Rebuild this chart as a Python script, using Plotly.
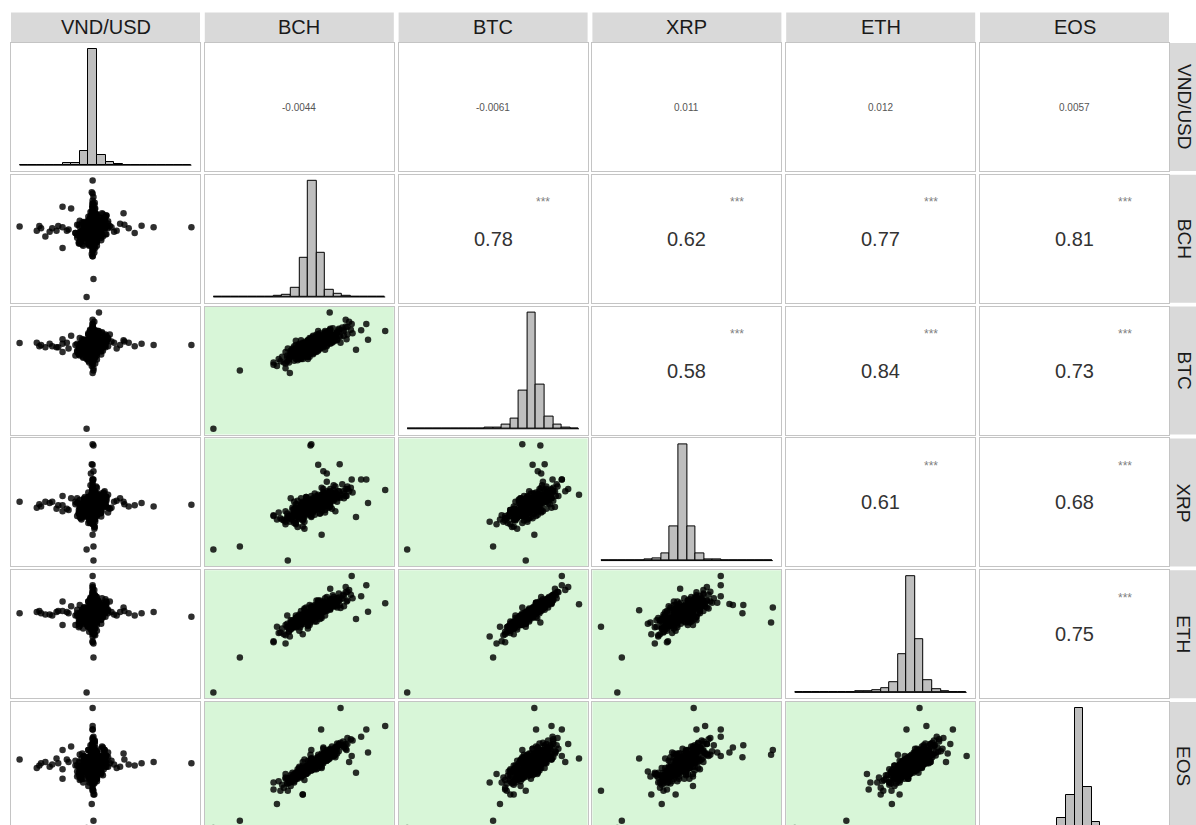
import plotly.graph_objects as go

# ---------------- data (daily returns, read/estimated from the picture) ----------------
labels = ["VND/USD", "BCH", "BTC", "XRP", "ETH", "EOS"]

vnd = [-0.07, 0.01, 0.0, 0.01, 0.0, 0.074, 0.0, 0.0, -0.85, 1.15, 0.01, 0.0,
       0.0, 0.01, -0.01, 0.0, 0.02, 0.0, -0.01, 0.0, 0.01, 0.0, -0.02, 0.0,
       0.0, 0.01, -0.01, 0.0, 0.02, 0.0, -0.01, 0.0, 0.01,
       0.71, 0.57, -0.65, -0.47, 0.37, 0.49, -0.55, -0.35, -0.28, 0.25, 0.18, -0.20, 0.32, -0.42, 0.12, -0.14, -0.35, -0.25, -0.35, 0.36,
       -0.6, -0.5, -0.4, -0.3, -0.18, 0.15, 0.22, 0.28, 0.42, -0.62,
       0.05, -0.1, 0.0, 0.15, -0.05, 0.1, -0.15, 0.0, 0.05, -0.1,
       0.1, 0.0, -0.05, 0.15, -0.1, 0.05, 0.0, 0.1, -0.15, 0.05,
       -0.05, 0.1, 0.0, -0.1, 0.15, -0.05, 0.05, 0.0, -0.1, 0.1,
       0.0, -0.05, 0.05, -0.15, 0.1, 0.0, -0.1, 0.05, 0.15, -0.05,
       0.0, 0.1, -0.1, 0.05, 0.0, -0.05, 0.1, -0.15, 0.05, 0.0,
       0.05, -0.1, 0.1, 0.0, -0.05, 0.05,
       0.04, -0.04, 0.0, 0.02, -0.06, 0.06, 0.0, 0.03, -0.03, 0.0,
       0.05, -0.05, 0.0, 0.02, -0.02, 0.04, 0.0, -0.04, 0.01, -0.01,
       0.06, -0.06, 0.0, 0.03, -0.03, 0.0, 0.05, -0.05, 0.0, 0.02,
       -0.02, 0.04, 0.0, -0.04, 0.01, -0.01, 0.0, 0.03, -0.03, 0.0,
       0.02, -0.03, 0.0, 0.05, -0.05, 0.03, 0.0, -0.02, 0.04, -0.04,
       0.0, 0.02, -0.03, 0.0, 0.05, -0.02, 0.03, 0.0, -0.05, 0.02,
       0.0, -0.03, 0.04, 0.0, -0.02, 0.03, 0.0, -0.04, 0.02, 0.0,
       -0.03, 0.05, 0.0, 0.02, -0.02, 0.0, 0.04, -0.04, 0.0, 0.03,
       -0.02, 0.0, 0.02, -0.03, 0.0, 0.05, -0.05, 0.0, 0.02, 0.0,
       0.08, -0.1, 0.12, -0.12, 0.06, -0.08, 0.14, -0.14, 0.1, -0.06,
       0.04, -0.04, 0.16, -0.16, 0.09, -0.09, 0.11, -0.11, 0.05, -0.05,
       0.13, -0.13, 0.07, -0.07, 0.15, -0.15, 0.03, -0.03, 0.1, -0.1,
       0.08, -0.08, 0.12, -0.12, 0.06, -0.06, 0.14, -0.14, 0.02, -0.02,
       0.11, -0.11, 0.09, -0.09, 0.05, -0.05, 0.13, -0.13, 0.07, -0.07,
       0.04, -0.04, 0.16, -0.16, 0.0, 0.0, 0.1, -0.1, 0.0, 0.0,
       0.12, -0.12, 0.1, -0.1, 0.14, -0.14, 0.06, -0.06, 0.18, -0.18,
       0.08, -0.08, 0.16, -0.16, 0.04, -0.04, 0.2, -0.2, 0.1, -0.1,
       0.12, -0.12, 0.08, -0.08, 0.14, -0.14, 0.02, -0.02, 0.16, -0.16,
       0.06, -0.06, 0.18, -0.18, 0.1, -0.1, 0.04, -0.04, 0.12, -0.12,
       0.0, 0.025, -0.025, 0.05, 0.0, -0.05, 0.025, 0.0, -0.025, 0.025, 0.0, 0.05, -0.05, 0.025, 0.0, 0.0, -0.025, 0.025]

bch = [-58, -14.7, -1, -1.5, 42, 9.7, 22.5, 16, 2.6, 2, -42.6, 5,
       31, 28, 32, 25, 21, 19, 15.5, 4.7, 6, 3, 8, 10,
       -23, -16, -21, -13.5, -6, -15, -10, -23, -6,
       2, 3.3, -1, 1, 4, -3, -6, 2, 0, -2, 1, -3, 5, -1, 2, -2, 19.5, 18, -16, 14,
       1, -2, 3, -1, 4, -4, 2, -1, 1, 3,
       0.5, 1.8, -1.5, 3.2, -2.8, 4.5, -4.2, 2.2, -0.6, 5.8,
       -5.5, 1.0, -3.5, 6.9, -6.8, 3.9, -2.0, 0.0, 7.5, -7.8,
       2.8, -1.1, 4.9, -4.9, 1.5, -0.2, 8.8, -8.5, 3.5, -3.0,
       0.8, -1.9, 5.2, -5.9, 2.5, -2.4, 6.4, -6.3, 1.2, -0.9,
       9.5, -9.2, 4.1, -3.8, 0.3, 7.0, -7.2, 2.0, -1.3, 3.0,
       -4.5, 1.6, 5.6, -0.4, 11.0, -10.5,
       2, -2, 4, -4, 1, -1, 6, -6, 3, -3,
       0, 0, 5, -5, 2, -2, 7, -7, 1, -1,
       3, -3, 8, -8, 4, -4, 2, -2, 0, 0,
       5, -5, 9, -9, 3, -3, 6, -6, 1, -1,
       9, -8, 12, -11, 6, -6, 14, -13, 7, -4,
       16, -15, 10, -9, 5, -5, 18, -18, 8, -7,
       11, -12, 13, -10, 4, -3, 15, -14, 6, -6,
       9, -9, 20, -20, 3, -2, 12, -11, 17, -16,
       7, -8, 10, -10, 22, 13, -13, 8, -5, 19,
       4, -5, 8, -8, 1, -2, 10, -10, -3, 3,
       6, -6, 12, -11, 2, -1, 7, -7, 5, -4,
       9, -9, -1, 1, 11, -12, 3, -3, 6, -6,
       0, 0, 13, -13, 2, -2, 8, -8, 5, -5,
       14, -14, 4, -4, 9, -9, 1, -1, 7, -7,
       11, -11, 3, -3, 6, -6, 10, -10, 15, -15,
       6, -6, -2, 2, 9, -9, 0, 0, 5, -5,
       7, -7, -4, 4, 11, -11, 3, -3, 8, -8,
       -6, 6, 4, -4, 10, -10, -1, 1, 12, -12,
       3, -3, 7, -7, -5, 5, 13, -13, 1, -1,
       13.0, -12.5, 15.0, -14.0, 10.0, -11.0, 17.5, -17.0, 12.0, -9.0, 20.0, 8.0, -7.5, 14.0, -19.0, 11.5, -5.0, 23.0]

btc = [-72, -3, -5, 5.5, 12, 28, 18, 2, 1.8, 0, -22, 2,
       18, 12.6, 4.6, -4, 20, 21.7, 8, 3, 4, 1, 6, 14,
       -17, -20, -18, -24, -10, -9, 3.7, -15, -12,
       0, 1, 2, -1, 3, -1, -2, 1, -3, 2, -1, 0, 0, -2, 3, 1, 5, 8, -6, 4,
       0, 1, -2, 2, 1, -2, 3, -3, 2, -1,
       0.3, 1.2, -1.0, 2.0, -2.5, 3.8, -3.0, 0.8, 0.9, 4.2,
       -4.8, 2.1, -1.8, 5.5, -5.9, 1.5, -3.3, -0.5, 6.1, -6.5,
       3.0, -2.2, 2.7, -3.9, -0.1, 1.6, 6.9, -7.0, 4.6, -1.2,
       -1.4, 0.2, 5.0, -4.2, 1.9, -2.9, 3.5, -5.1, 2.6, -0.7,
       7.8, -8.1, 3.2, -2.4, 1.1, 4.8, -5.5, 0.4, -1.6, 2.4,
       -3.6, 3.5, 2.2, -2.7, 8.5, -9.0,
       -1, 1, 1, -1, 3, -3, 2, -2, 4, -4,
       2, -2, 5, -5, 0, 0, 3, -3, 5, -5,
       1, -1, 6, -6, 3, -3, 4, -4, -1, 1,
       2, -2, 4, -4, 6, -6, 0, 0, 2, -2,
       4, -3, 8, -6, 9, -9, 11, -8, 2, -7,
       7, -11, 13, -13, 6, -2, 12, -10, 10, -5,
       3, -4, 9, -12, 8, -10, 14, -15, 1, -1,
       12, -7, 9, -12, 5, -6, 6, -9, 15, -16,
       11, -12, 5, -5, 13, 7, -6, 7, -8, 16,
       -3, 2, 2, -1, 6, -7, 5, -4, 4, -5,
       8, -9, 6, -8, -2, 3, 10, -10, 0, 0,
       3, -2, 5, -6, 9, -9, -4, 4, 3, -3,
       7, -7, 4, -5, 9, -10, -1, 1, 6, -6,
       11, -11, 1, -2, 7, -6, 2, -3, 12, -12,
       2, -1, 8, -8, 5, -4, 1, 0, 13, -14,
       -2, 2, 6, -6, 2, -2, 8, -8, 5, -5,
       -4, 4, 3, -3, 4, -4, 9, -9, 0, 0,
       1, -1, 10, -10, 7, -7, -4, 4, 3, -3,
       12, -12, 6, -6, -1, 1, 8, -8, -5, 5,
       9.5, -10.0, 11.5, -12.5, 12.0, -13.5, 13.0, -15.0, 6.5, -11.0, 15.5, 10.5, -9.5, 5.0, -14.0, 14.5, -7.5, 10.0]

xrp = [-37.6, -47, 52, 51, 13, 9, 22, 6.4, 3, 0.5, -35, -25,
       22, 22, 2, -10, 12, 14, 35, 8, 29, 34.5, 27, -1.4,
       -8.4, -16, -12, -14, -18, -10, -5, -9, -4,
       -1, 2, -2, 3, 1, 0, 3, 0, -4, 3, -2, 1, 6, -3, -1, 2, 8, 6, -5, 3,
       -1, 2, 0, -3, 2, 1, -2, 4, -1, 1,
       -0.8, 2.5, -0.5, 1.1, -3.6, 5.2, -1.9, -1.5, 1.4, 3.0,
       -6.2, 0.4, -2.6, 7.8, -4.1, 2.0, -0.2, 1.9, 4.6, -8.0,
       3.9, -3.0, 0.8, -5.5, -1.2, 2.8, 6.0, -5.0, 2.4, -4.5,
       0.3, -1.0, 6.4, -2.8, 4.4, -1.7, 1.6, -7.0, -0.6, 0.9,
       8.5, -9.5, 5.9, -3.2, -2.3, 3.5, -6.0, 1.0, -2.1, 0.0,
       -3.9, 3.1, 2.6, -1.3, 6.8, -7.5,
       3, -3, -1, 1, 2, -2, 4, -4, 0, 0,
       5, -5, 2, -2, 0, 0, 1, -1, 3, -3,
       6, -6, 5, -5, -2, 2, 1, -1, 2, -2,
       7, -7, 3, -3, 4, -4, 1, -1, -4, 4,
       2, -6, 13, -3, 11, -12, 6, -10, -4, 2,
       9, -7, 4, -8, 15, -14, 10, -12, 7, -9,
       5, -2, 16, -16, 3, -5, 12, -11, 10, -11,
       -2, 4, 14, -6, 9, -8, 8, -13, 18, -14,
       1, -4, 12, -15, 15, -5, 6, 20, -20, 8,
       6, -7, 1, -3, -4, 5, 3, -9, 2, -2,
       9, -8, 5, -6, 8, -9, 2, -1, -5, 6,
       11, -12, 0, 1, 7, -10, 4, -4, -1, 2,
       6, -6, 9, -8, 3, -3, 12, -11, 0, 0,
       8, -9, -7, 7, 4, -5, 10, -10, 6, -6,
       -3, 3, 7, -7, 14, -13, 0, 1, 12, -11,
       3, -3, -5, 5, -1, 1, 4, -4, 9, -9,
       0, 0, 7, -7, 6, -6, -3, 3, 10, -10,
       2, -2, 5, -5, 2, -2, 8, -8, 4, -4,
       6, -6, -6, 6, -4, 4, 11, -11, 1, -1,
       10.5, -12.0, 7.0, -9.0, 14.0, -15.0, 12.0, -13.0, 17.0, -18.5, 16.0, 5.0, -3.0, 9.0, -11.0, 8.0, -10.0, 11.0]

eth = [-68, -11.7, 5, -8, 8.6, 7.7, 32, 4.6, 0, -3, -38, 2.6,
       24, 14.6, 1.3, -5, 20, 22.5, 7, -3, 7, 0, 8, 21,
       -24, -26, -11.5, -20, -18, -2, -4, -25, -7,
       1, 0, 1, -2, 2, -2, -1, 2, 0, -1, 3, -2, 1, 1, 0, -3, 10, 6, -10, 5,
       0, -1, 2, 1, 3, -3, 1, -2, 0, 2,
       0.6, 1.5, -1.8, 2.8, -2.0, 4.0, -3.9, 1.0, 0.2, 5.1,
       -5.0, 2.4, -2.9, 6.2, -6.5, 3.3, -2.7, -0.3, 7.0, -7.2,
       2.1, -1.0, 4.5, -4.6, 0.5, 1.1, 8.0, -8.2, 3.8, -1.6,
       -0.9, 0.4, 5.8, -5.5, 3.6, -3.4, 4.8, -4.3, 1.7, -1.3,
       9.0, -9.0, 2.9, -2.2, 0.9, 6.5, -5.9, 0.1, -2.3, 2.0,
       -3.3, 3.0, 3.9, -1.9, 10.0, -10.2,
       0, 0, 2, -2, 3, -3, 3, -3, 5, -5,
       1, -1, 3, -3, 3, -3, 6, -6, 2, -2,
       4, -4, 7, -7, 1, -1, 6, -6, -2, 2,
       4, -4, 5, -5, 4, -4, 2, -2, 2, -2,
       7, -9, 6, -8, 10, -7, 9, -14, 3, -5,
       12, -9, 12, -11, 4, -4, 15, -13, 5, -10,
       9, -6, 10, -12, 11, -13, 17, -16, 2, -3,
       8, -8, 11, -17, 6, -2, 14, -7, 13, -19,
       13, -15, 7, -6, 16, 10, -10, 9, -9, 18,
       -1, 3, 5, -6, 7, -5, 4, -7, 1, -2,
       3, -4, 10, -12, -3, 2, 8, -9, 2, -1,
       6, -5, 6, -7, 12, -11, 0, 1, 9, -8,
       4, -3, 7, -8, 11, -10, 2, -1, 3, -4,
       13, -13, 5, -5, 4, -3, 0, 1, 9, -9,
       6, -7, 8, -8, 5, -6, 3, -2, 11, -12,
       1, -1, 7, -7, 5, -5, 5, -5, 0, 0,
       -2, 2, 5, -5, 8, -8, 10, -10, 3, -3,
       -3, 3, 7, -7, 4, -4, -6, 6, 9, -9,
       11, -11, 2, -2, 4, -4, 6, -6, -3, 3,
       12.0, -13.0, 13.5, -15.0, 11.0, -11.5, 16.0, -18.0, 9.0, -8.0, 18.5, 14.0, -12.0, 8.0, -16.5, 15.5, -6.5, 13.0]

eos = [-53, -22, 12, 8, 32, 5, 7, 47, 4, 1, -47, 5,
       29, 23, 10, -7, 2, 17, 16, 29, 14, 6, 10, 9,
       -15, -8, -33, -15, -25, -12, -8, -21, -25,
       2, 1, -3, 0, 4, -1, 2, -4, 2, 0, -2, 3, -2, 5, 1, -1, 12, 15, -12, 9,
       1, -2, 1, 4, -1, -2, 3, -3, 0, -1,
       0.2, 2.2, -2.0, 3.9, -3.1, 5.5, -5.0, 0.6, -1.1, 6.8,
       -4.4, 1.5, -3.8, 7.0, -7.5, 2.5, -1.4, 0.9, 8.3, -6.1,
       3.2, -0.4, 4.1, -6.0, 1.8, 0.3, 9.5, -9.0, 2.0, -2.4,
       -0.6, -2.6, 4.6, -5.2, 4.8, -1.0, 5.9, -7.9, 2.9, -0.2,
       10.5, -8.3, 3.5, -4.6, -0.9, 6.2, -6.7, 1.2, -0.8, 3.0,
       -2.9, 1.9, 6.5, -1.7, 12.0, -11.0,
       1, -1, 5, -5, 0, 0, 3, -3, 2, -2,
       3, -3, 6, -6, 4, -4, 4, -4, -1, 1,
       2, -2, 5, -5, 6, -6, 1, -1, 2, -2,
       3, -3, 8, -8, 1, -1, 7, -7, 3, -3,
       11, -5, 9, -14, 4, -3, 13, -9, 8, -8,
       18, -16, 6, -6, 7, -7, 14, -17, 12, -11,
       15, -10, 8, -7, 2, -4, 11, -13, 13, -9,
       5, -12, 17, -14, -3, 3, 10, -15, 16, -11,
       9, -9, 12, -8, 21, 6, -18, 10, -6, 13,
       7, -4, 3, -2, 0, 1, 12, -11, -6, 6,
       2, -3, 7, -9, 4, -5, 5, -6, 9, -8,
       10, -10, -2, 3, 8, -13, 8, -7, 1, -1,
       3, -4, 14, -12, 2, -1, 6, -7, -3, 4,
       15, -15, 6, -5, 11, -10, -4, 5, 4, -5,
       9, -8, 1, -2, 8, -9, 13, -12, 17, -16,
       8, -8, 0, 0, 4, -4, -3, 3, 6, -6,
       5, -5, -2, 2, 9, -9, 1, -1, 3, -3,
       -9, 9, 6, -6, 12, -12, 2, -2, 7, -7,
       4, -4, 10, -10, -7, 7, 11, -11, 5, -5,
       14.0, -14.5, 16.0, -12.0, 9.0, -9.5, 19.0, -19.5, 11.0, -10.0, 22.0, 7.5, -6.0, 17.5, -22.0, 10.5, -13.0, 20.0]

# histogram counts (20 equal bins spanning each variable's min..max)
vnd_hist = [1, 0, 1, 1, 0, 6, 7, 49, 410, 35, 12, 5, 1, 0, 1, 1, 0, 0, 0, 1]
bch_hist = [1, 0, 0, 1, 1, 1, 2, 4, 7, 32, 140, 413, 158, 25, 10, 4, 2, 1, 1, 1]
btc_hist = [1, 0, 0, 0, 0, 1, 0, 1, 2, 3, 4, 14, 35, 133, 410, 154, 42, 14, 4, 1]
xrp_hist = [1, 0, 1, 2, 1, 6, 7, 25, 122, 415, 122, 25, 4, 4, 2, 1, 1, 1, 0, 2]
eth_hist = [1, 0, 0, 1, 0, 1, 2, 4, 5, 8, 14, 35, 133, 410, 186, 42, 10, 3, 2, 1]
eos_hist = [1, 1, 0, 1, 2, 2, 4, 7, 32, 112, 403, 137, 21, 5, 3, 2, 1, 1, 1, 1]

# correlation labels (upper triangle)
corr_vnd = ["-0.0044", "-0.0061", "0.011", "0.012", "0.0057"]
corr_bch = ["0.78", "0.62", "0.77", "0.81"]
corr_btc = ["0.58", "0.84", "0.73"]
corr_xrp = ["0.61", "0.68"]
corr_eth = ["0.75"]

series = [vnd, bch, btc, xrp, eth, eos]
hists = [vnd_hist, bch_hist, btc_hist, xrp_hist, eth_hist, eos_hist]
corr_rows = [corr_vnd, corr_bch, corr_btc, corr_xrp, corr_eth]
n_obs = len(vnd)
assert all(len(s) == n_obs for s in series), [len(s) for s in series]

# ---------------- layout geometry ----------------
W, H = 1196, 825
FONT = "Liberation Sans, Arial, Helvetica, sans-serif"
col_x0 = [11 + 193.8 * j for j in range(6)]
row_y0 = [43 + 131.8 * i for i in range(6)]
PW, PH = 189, 128
LAST_PH = 132             # the last row runs past the bottom edge of the picture
GREEN = "#d8f6d8"
BORDER = "#c4c4c4"


def var_range(v):
    lo, hi = min(series[v]), max(series[v])
    r = hi - lo
    return [lo - 0.05 * r, hi + 0.05 * r]


fig = go.Figure()
layout = dict(width=W, height=H, margin=dict(l=0, r=0, t=0, b=0, autoexpand=False),
              paper_bgcolor="white", plot_bgcolor="white", showlegend=False,
              font=dict(family=FONT))
shapes, annotations = [], []


def ann(**kw):
    d = dict(showarrow=False, xanchor="center", yanchor="middle")
    d.update(kw)
    annotations.append(d)


for i in range(6):
    for j in range(6):
        k = i * 6 + j + 1
        sfx = "" if k == 1 else str(k)
        xa, ya = "x" + sfx, "y" + sfx
        top = row_y0[i]
        ph = LAST_PH if i == 5 else PH
        bot_full = top + ph
        bot = min(bot_full, H)
        xdom = [col_x0[j] / W, (col_x0[j] + PW) / W]
        ydom = [1 - bot / H, 1 - top / H]

        if i > j:
            xr, yr = var_range(j), var_range(i)
            fig.add_trace(go.Scatter(
                x=series[j], y=series[i], mode="markers",
                marker=dict(size=6.5, color="rgba(0,0,0,0.82)", line=dict(width=0)),
                xaxis=xa, yaxis=ya, hoverinfo="skip"))
            if j > 0:
                shapes.append(dict(type="rect", xref=xa + " domain", yref=ya + " domain",
                                   x0=0, x1=1, y0=0, y1=1, fillcolor=GREEN,
                                   line=dict(width=0), layer="below"))
        elif i == j:
            lo, hi = min(series[i]), max(series[i])
            nb = len(hists[i])
            w = (hi - lo) / nb
            centers = [lo + (b + 0.5) * w for b in range(nb)]
            m = max(hists[i])
            xr, yr = var_range(i), [-0.05 * m, 1.05 * m]
            fig.add_trace(go.Bar(
                x=centers, y=hists[i], width=w,
                marker=dict(color="#bebebe", line=dict(color="black", width=1)),
                xaxis=xa, yaxis=ya, hoverinfo="skip"))
            fig.add_trace(go.Scatter(
                x=[lo, hi], y=[0, 0], mode="lines",
                line=dict(color="black", width=1),
                xaxis=xa, yaxis=ya, hoverinfo="skip"))
        else:
            xr, yr = [0, 1], [0, 1]
            # invisible anchor so the empty panel (and its frame) is drawn
            fig.add_trace(go.Scatter(x=[0.5], y=[0.5], mode="markers",
                                     marker=dict(opacity=0), xaxis=xa, yaxis=ya,
                                     hoverinfo="skip"))
            txt = corr_rows[i][j - i - 1]
            if i == 0:
                ann(xref=xa + " domain", yref=ya + " domain", x=0.5, y=0.5, text=txt,
                    font=dict(size=10, color="#555555", family=FONT))
            else:
                ann(xref=xa + " domain", yref=ya + " domain", x=0.5, y=0.5, text=txt,
                    font=dict(size=20, color="#333333", family=FONT))
                ann(xref=xa + " domain", yref=ya + " domain", x=0.765, y=0.785, text="***",
                    font=dict(size=12, color="#808080", family=FONT))

        if bot < bot_full:  # keep the full-panel scale, show only the part inside the picture
            frac = (bot - top) / ph
            yr = [yr[1] - (yr[1] - yr[0]) * frac, yr[1]]

        axis_common = dict(showgrid=False, zeroline=False, showticklabels=False,
                           ticks="", showline=True, mirror=True, linecolor=BORDER,
                           linewidth=1, fixedrange=True)
        layout["xaxis" + sfx] = dict(domain=xdom, range=xr, anchor=ya, **axis_common)
        layout["yaxis" + sfx] = dict(domain=ydom, range=yr, anchor=xa, **axis_common)

# top strips
for j in range(6):
    x0, x1 = col_x0[j], col_x0[j] + PW
    shapes.append(dict(type="rect", xref="paper", yref="paper",
                       x0=x0 / W, x1=x1 / W, y0=1 - 42 / H, y1=1 - 12.5 / H,
                       fillcolor="#d9d9d9", line=dict(width=0), layer="below"))
    ann(xref="paper", yref="paper", x=(x0 + x1) / 2 / W, y=1 - 27.5 / H,
        text=labels[j], font=dict(size=20, color="#1a1a1a", family=FONT))

# right strips
for i in range(6):
    top = row_y0[i]
    bot = min(top + PH, H)
    shapes.append(dict(type="rect", xref="paper", yref="paper",
                       x0=1169 / W, x1=1.05, y0=1 - bot / H, y1=1 - top / H,
                       fillcolor="#d9d9d9", line=dict(width=0), layer="below"))
    ann(xref="paper", yref="paper", x=1184 / W, y=1 - (top + PH / 2) / H,
        text=labels[i], textangle=90, font=dict(size=19, color="#1a1a1a", family=FONT))

layout["shapes"] = shapes
layout["annotations"] = annotations
layout["bargap"] = 0
fig.update_layout(**layout)
# remove the page's default 8px body margin so the figure fills the window
fig.write_html("out.html", config={"displayModeBar": False},
               post_script="document.body.style.margin='0';document.body.style.overflow='hidden';")
